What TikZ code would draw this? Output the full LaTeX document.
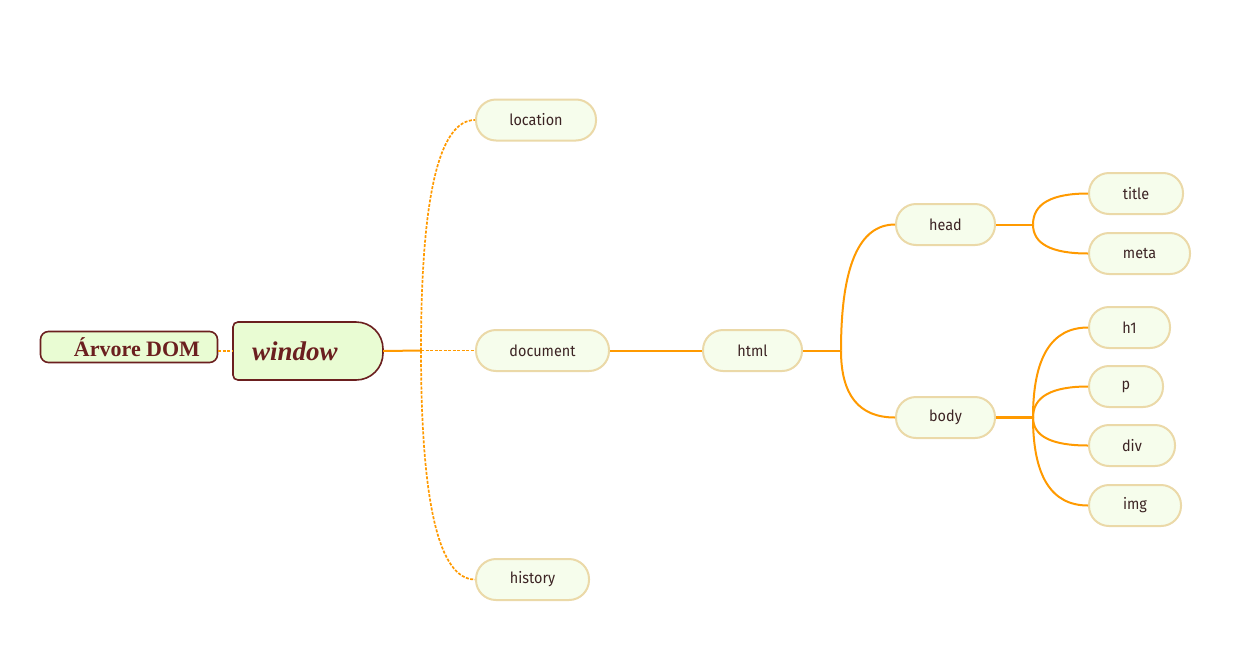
\documentclass[tikz,border=0pt]{standalone}
\usepackage{fontspec}
\newfontfamily\nodefont[FakeStretch=0.93]{Fira Sans}
\newfontfamily\titlefont{Liberation Serif}
\usetikzlibrary{calc}
\definecolor{orng}{HTML}{FF9A00}
\definecolor{brwn}{HTML}{6B1F1F}
\definecolor{tfill}{HTML}{E9FCD3}
\definecolor{lfill}{HTML}{F6FDEC}
\definecolor{lborder}{HTML}{EBD9A8}
\definecolor{ltext}{HTML}{3C2424}
\newcommand\mybranch[3]{\draw[#1] (#2) .. controls ($(#2)!0.667!(#2 |- #3.west)$) and ($(#3.west)!0.667!(#2 |- #3.west)$) .. (#3.west);}
\begin{document}
\begin{tikzpicture}[x=1pt,y=-1pt,
 leaf/.style={draw=lborder, fill=lfill, line width=2pt, rounded corners=20pt, minimum height=41pt, inner sep=0pt, font=\nodefont\fontsize{15.5pt}{18pt}\selectfont, text=ltext},
 link/.style={draw=orng, line width=2pt},
 dotlink/.style={draw=orng, line width=1.7pt, dash pattern=on 3pt off 1.5pt},
 titlebox/.style={draw=brwn, fill=tfill, line width=1.6pt},
]
\fill[white] (0,0) rectangle (1244,667);
% title boxes
\node[titlebox, rounded corners=8pt, minimum width=177pt, minimum height=31pt, inner sep=0pt, text=brwn, font=\titlefont\bfseries\fontsize{22pt}{26pt}\selectfont] (arvore) at (129,347) {\hspace*{16pt}Árvore DOM};
\filldraw[titlebox] (238,322) -- (356,322) .. controls (371,322) and (383,334) .. (383,349) -- (383,353) .. controls (383,368) and (371,380) .. (356,380) -- (238,380) .. controls (235,380) and (233,378) .. (233,375) -- (233,327) .. controls (233,324) and (235,322) .. (238,322) -- cycle;
\node[minimum width=150pt, minimum height=58pt, inner xsep=19pt, inner ysep=0pt, text width=112pt, align=left, text=brwn, font=\titlefont\bfseries\itshape\fontsize{27pt}{30pt}\selectfont] (window) at (308,351) {window};
% leaves
\node[leaf, minimum width=120pt] (location) at (536,120) {location};
\node[leaf, minimum width=133pt] (document) at (542.5,350.5) {document};
\node[leaf, minimum width=113pt] (history) at (532.5,579.5) {history};
\node[leaf, minimum width=99pt] (html) at (752.5,350.5) {html};
\node[leaf, minimum width=99pt] (head) at (945.5,224.5) {head};
\node[leaf, minimum width=99pt] (body) at (945.5,417.5) {body};
\node[leaf, minimum width=94pt] (title) at (1136,193.5) {title};
\node[leaf, minimum width=101pt] (meta) at (1139.5,253.5) {meta};
\node[leaf, minimum width=81pt] (h1) at (1129.5,327.5) {h1};
\node[leaf, minimum width=74pt] (p) at (1126,386.5) {p};
\node[leaf, minimum width=86pt] (div) at (1132,445.5) {div};
\node[leaf, minimum width=92pt] (img) at (1135,505.5) {img};
% connectors
\draw[dotlink] (arvore.east |- window.west) -- (window.west);
\coordinate (trunk) at (421,350.5);
\draw[link] (window.east) -- (trunk);
\draw[dotlink] (trunk) -- (document.west);
\mybranch{dotlink}{trunk}{location}
\mybranch{dotlink}{trunk}{history}
\draw[link] (document.east) -- (html.west);
\coordinate (hb) at (841,350.5);
\draw[link] (html.east) -- (hb);
\mybranch{link}{hb}{head}
\mybranch{link}{hb}{body}
\coordinate (hdb) at (1033,224.5);
\draw[link] (head.east) -- (hdb);
\mybranch{link}{hdb}{title}
\mybranch{link}{hdb}{meta}
\coordinate (bdb) at (1033,417.5);
\draw[link, line width=3pt] (body.east) -- (bdb);
\mybranch{link}{bdb}{h1}
\mybranch{link}{bdb}{p}
\mybranch{link}{bdb}{div}
\mybranch{link}{bdb}{img}
\end{tikzpicture}
\end{document}
